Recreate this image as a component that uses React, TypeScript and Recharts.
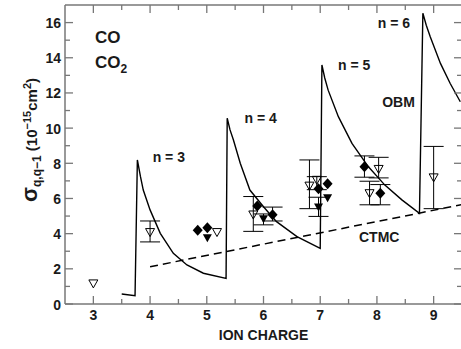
import React from "react";
import {
  ComposedChart,
  Line,
  Scatter,
  ErrorBar,
  XAxis,
  YAxis,
  ReferenceDot,
} from "recharts";

// OBM sawtooth curve (n = 3..6)
const obmX = [3.5, 3.735, 3.776, 3.83, 3.88, 4.0, 4.18, 4.41, 4.65, 4.94, 5.34, 5.36, 5.41, 5.47, 5.59, 5.76, 6.0, 6.23, 6.59, 7.0, 7.03, 7.08, 7.14, 7.32, 7.56, 7.85, 8.14, 8.44, 8.75, 8.81, 8.87, 8.94, 9.12, 9.29, 9.47];
const obmY = [0.57, 0.47, 8.19, 7.25, 6.48, 5.35, 4.02, 2.88, 2.22, 1.75, 1.46, 10.56, 9.9, 9.32, 8.0, 6.48, 5.53, 4.68, 3.83, 3.16, 13.59, 12.85, 12.16, 10.65, 9.13, 7.8, 6.76, 5.92, 5.15, 16.53, 15.85, 15.2, 13.68, 12.55, 11.5];

// CTMC straight line
const ctmcX = [4.0, 9.5];
const ctmcY = [2.12, 5.65];

// measured points: y with optional error-bar bounds
const openTriangles = [
  { x: 3.0, y: 1.17 },
  { x: 4.0, y: 4.09, lo: 3.53, hi: 4.72 },
  { x: 5.18, y: 4.09 },
  { x: 5.82, y: 5.09, lo: 4.13, hi: 6.11 },
  { x: 6.81, y: 6.73, lo: 5.42, hi: 8.19 },
  { x: 6.94, y: 7.06, lo: 6.5, hi: 7.24 },
  { x: 7.87, y: 6.3, lo: 5.64, hi: 6.98 },
  { x: 8.03, y: 7.68, lo: 7.17, hi: 8.34 },
  { x: 9.0, y: 7.2, lo: 5.42, hi: 8.96 },
];
const diamonds = [
  { x: 4.84, y: 4.19 },
  { x: 5.01, y: 4.34 },
  { x: 5.89, y: 5.57 },
  { x: 6.16, y: 5.08, lo: 4.72, hi: 5.51 },
  { x: 6.97, y: 6.55 },
  { x: 7.13, y: 6.83 },
  { x: 7.78, y: 7.81, lo: 7.21, hi: 8.42 },
  { x: 8.06, y: 6.3, lo: 5.64, hi: 6.79 },
];
const filledTriangles = [
  { x: 5.01, y: 3.77 },
  { x: 6.0, y: 4.85, lo: 4.5, hi: 5.12 },
  { x: 6.97, y: 5.51, lo: 4.98, hi: 6.07 },
  { x: 7.13, y: 6.04 },
];

const xTicks = [3, 3.5, 4, 4.5, 5, 5.5, 6, 6.5, 7, 7.5, 8, 8.5, 9];
const yTicks = [0, 1, 2, 3, 4, 5, 6, 7, 8, 9, 10, 11, 12, 13, 14, 15, 16];

const notes = [
  { x: 4.33, y: 8.34, text: "n = 3" },
  { x: 5.95, y: 10.56, text: "n = 4" },
  { x: 7.6, y: 13.59, text: "n = 5" },
  { x: 8.3, y: 15.96, text: "n = 6" },
  { x: 8.38, y: 11.5, text: "OBM" },
  { x: 8.04, y: 3.83, text: "CTMC" },
];

const obmData = obmX.map((x, i) => ({ x, y: obmY[i] }));
const ctmcData = ctmcX.map((x, i) => ({ x, y: ctmcY[i] }));
const withErr = (pts: any[]) =>
  pts.map((p) => ({
    x: p.x,
    y: p.y,
    err: p.lo != null ? [p.y - p.lo, p.hi - p.y] : undefined,
  }));

const FONT = "'Liberation Sans', Arial, Helvetica, sans-serif";
const INK = "#1a1a1a";
const AXIS = "#777";
const MAJOR = 8;
const MINOR = 5;

const BottomTick = ({ x, y, payload }: any) => {
  const major = Number.isInteger(payload.value);
  return (
    <g>
      <line x1={x} x2={x} y1={y} y2={y - (major ? MAJOR : MINOR)} stroke={AXIS} strokeWidth={1.3} />
      {major && (
        <text x={x} y={y + 15.5} textAnchor="middle" fontFamily={FONT} fontWeight={700} fontSize={14} fill={INK}>
          {payload.value}
        </text>
      )}
    </g>
  );
};

const TopTick = ({ x, y, payload }: any) => {
  const major = Number.isInteger(payload.value);
  return <line x1={x} x2={x} y1={y} y2={y + (major ? MAJOR : MINOR)} stroke={AXIS} strokeWidth={1.3} />;
};

const LeftTick = ({ x, y, payload }: any) => {
  const major = payload.value % 2 === 0;
  return (
    <g>
      <line x1={x} x2={x + (major ? MAJOR : MINOR)} y1={y} y2={y} stroke={AXIS} strokeWidth={1.3} />
      {major && (
        <text x={x - 4} y={y + 5.5} textAnchor="end" fontFamily={FONT} fontWeight={700} fontSize={14} fill={INK}>
          {payload.value}
        </text>
      )}
    </g>
  );
};

const RightTick = ({ x, y, payload }: any) => {
  const major = payload.value % 2 === 0;
  return <line x1={x} x2={x - (major ? MAJOR : MINOR)} y1={y} y2={y} stroke={AXIS} strokeWidth={1.3} />;
};

const OpenTri = ({ cx, cy }: any) => (
  <polygon
    points={`${cx - 4.5},${cy - 3.5} ${cx + 4.5},${cy - 3.5} ${cx},${cy + 4.5}`}
    fill="none"
    stroke="#000"
    strokeWidth={1}
  />
);
const FilledTri = ({ cx, cy }: any) => (
  <polygon points={`${cx - 4.5},${cy - 3.5} ${cx + 4.5},${cy - 3.5} ${cx},${cy + 4.5}`} fill="#000" />
);
const Diamond = ({ cx, cy }: any) => (
  <polygon points={`${cx},${cy - 5.5} ${cx + 5},${cy} ${cx},${cy + 5.5} ${cx - 5},${cy}`} fill="#000" />
);

const noteLabel = (text: string, anchor = "middle", sub?: string) => (props: any) => {
  const vb = props.viewBox || {};
  const cx = (vb.x ?? 0) + (vb.width ?? 0) / 2;
  const cy = (vb.y ?? 0) + (vb.height ?? 0) / 2;
  const big = anchor === "start";
  return (
    <text
      x={cx}
      y={cy + (big ? 6 : 5)}
      textAnchor={anchor}
      fontFamily={FONT}
      fontWeight={700}
      fontSize={big ? 17 : 14}
      fill={INK}
    >
      {text}
      {sub && (
        <tspan fontSize={12} dy={5}>
          {sub}
        </tspan>
      )}
    </text>
  );
};

const YTitle = () => (
  <text
    transform="translate(37,140) rotate(-90)"
    textAnchor="middle"
    fontFamily={FONT}
    fontWeight={700}
    fontSize={15}
    fill={INK}
  >
    <tspan fontSize={22}>σ</tspan>
    <tspan fontSize={12} dy={4}>q,q−1</tspan>
    <tspan dy={-4}> (10</tspan>
    <tspan fontSize={11} dy={-6}>−15</tspan>
    <tspan dy={6}>cm</tspan>
    <tspan fontSize={11} dy={-6}>2</tspan>
    <tspan dy={6}>)</tspan>
  </text>
);

export default function App() {
  return (
    <div style={{ position: "absolute", left: 0, top: 0, width: 461, height: 349, overflow: "hidden", background: "#fff" }}>
      <ComposedChart width={470} height={349} margin={{ top: 4, right: 7, bottom: 5, left: 0 }}>
        <XAxis
          dataKey="x"
          type="number"
          domain={[2.5, 9.5]}
          allowDataOverflow
          ticks={xTicks}
          interval={0}
          height={40}
          tickSize={0}
          tickMargin={0}
          tickLine={false}
          tick={<BottomTick />}
          axisLine={{ stroke: AXIS, strokeWidth: 1.5 }}
          label={{
            content: (p: any) => (
              <text
                x={p.viewBox.x + p.viewBox.width / 2}
                y={p.viewBox.y + 36}
                textAnchor="middle"
                fontFamily={FONT}
                fontWeight={700}
                fontSize={14}
                fill={INK}
              >
                ION CHARGE
              </text>
            ),
          }}
        />
        <XAxis
          xAxisId="top"
          orientation="top"
          dataKey="x"
          type="number"
          domain={[2.5, 9.5]}
          allowDataOverflow
          ticks={xTicks}
          interval={0}
          height={1}
          tickSize={0}
          tickMargin={0}
          tickLine={false}
          tick={<TopTick />}
          axisLine={{ stroke: AXIS, strokeWidth: 1.5 }}
        />
        <YAxis
          type="number"
          domain={[0, 17]}
          allowDataOverflow
          ticks={yTicks}
          interval={0}
          width={65}
          tickSize={0}
          tickMargin={0}
          tickLine={false}
          tick={<LeftTick />}
          axisLine={{ stroke: AXIS, strokeWidth: 1.5 }}
          label={{ content: () => <YTitle /> }}
        />
        <YAxis
          yAxisId="r"
          orientation="right"
          type="number"
          domain={[0, 17]}
          allowDataOverflow
          ticks={yTicks}
          interval={0}
          width={1}
          tickSize={0}
          tickMargin={0}
          tickLine={false}
          tick={<RightTick />}
          axisLine={{ stroke: AXIS, strokeWidth: 1.5 }}
        />

        <Line data={ctmcData} dataKey="y" type="linear" stroke="#000" strokeWidth={1.5} strokeDasharray="8 5" dot={false} activeDot={false} isAnimationActive={false} />
        <Line data={obmData} dataKey="y" type="linear" stroke="#000" strokeWidth={1.4} dot={false} activeDot={false} isAnimationActive={false} />

        <Scatter data={withErr(openTriangles)} dataKey="y" shape={<OpenTri />} isAnimationActive={false}>
          <ErrorBar dataKey="err" direction="y" width={10} stroke="#000" strokeWidth={1} />
        </Scatter>
        <Scatter data={withErr(diamonds)} dataKey="y" shape={<Diamond />} isAnimationActive={false}>
          <ErrorBar dataKey="err" direction="y" width={10} stroke="#000" strokeWidth={1} />
        </Scatter>
        <Scatter data={withErr(filledTriangles)} dataKey="y" shape={<FilledTri />} isAnimationActive={false}>
          <ErrorBar dataKey="err" direction="y" width={10} stroke="#000" strokeWidth={1} />
        </Scatter>

        {notes.map((n) => (
          <ReferenceDot key={n.text} x={n.x} y={n.y} r={1} fill="none" stroke="none" label={{ content: noteLabel(n.text) }} />
        ))}
        <ReferenceDot x={3.03} y={15.16} r={1} fill="none" stroke="none" label={{ content: noteLabel("CO", "start") }} />
        <ReferenceDot x={3.03} y={13.78} r={1} fill="none" stroke="none" label={{ content: noteLabel("CO", "start", "2") }} />
      </ComposedChart>
    </div>
  );
}
